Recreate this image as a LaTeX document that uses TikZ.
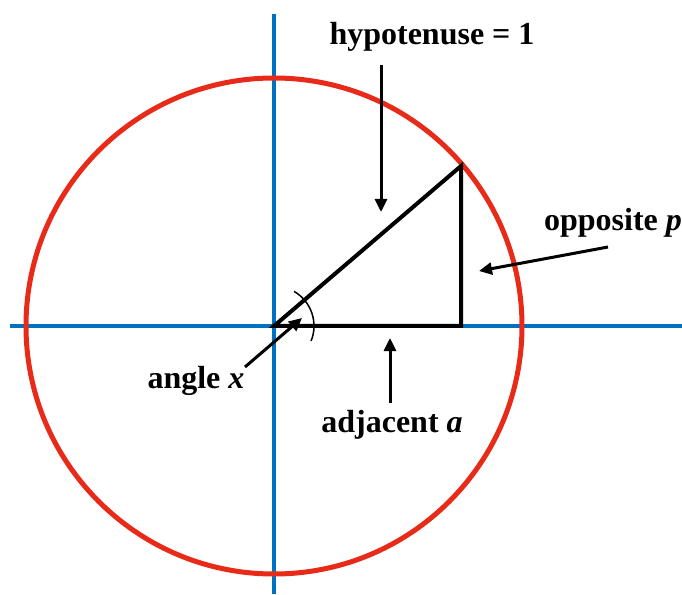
\documentclass[tikz,border=0pt]{standalone}
\usepackage{fontspec}
\setmainfont{Liberation Serif}
\usepackage{tikz}
\usetikzlibrary{arrows.meta,positioning,calc}
\usepackage{xcolor}
\definecolor{circred}{RGB}{232,42,24}
\definecolor{axisblue}{RGB}{0,112,192}
\tikzset{
  lbl/.style={font=\fontsize{32}{36}\selectfont\bfseries, inner sep=0pt},
  pointer/.style={line width=3pt, -{Triangle[length=13pt,width=12pt]}}
}

\begin{document}
\begin{tikzpicture}[x=1pt, y=1pt]
                    \useasboundingbox (-274,-268) rectangle (408,326);
                    \coordinate (O) at (0,0);
                    \coordinate (P) at (187,160);
                    \coordinate (F) at (187,0);
                    % axes and unit circle
                    \draw[axisblue, line width=4pt] (-264,0) -- (408,0);
                    \draw[axisblue, line width=4pt] (0,312) -- (0,-268);
                    \draw[circred, line width=5pt] (O) circle (248);
                    % triangle
                    \draw[line width=4pt, line join=miter] (O) -- (P) -- (F) -- cycle;
                    \draw[line width=1.5pt] (-22:40) arc (-22:60:40);
                    % labels
                    \node[lbl] (hyp) at (158,289) {hypotenuse = 1};
                    \node[lbl] (opp) at (339,103) {opposite \textit{p}};
                    \node[lbl] (adj) at (118,-99) {adjacent \textit{a}};
                    \node[lbl] (ang) at (-78,-55) {angle \textit{x}};
                    \coordinate (hypA) at (107,261);
                    \coordinate (hypB) at (107,114);
                    \coordinate (oppA) at (334,79);
                    \coordinate (oppB) at (205,55);
                    \coordinate (adjA) at (116,-77);
                    \coordinate (adjB) at (116,-12);
                    \coordinate (angA) at (-29,-41);
                    \coordinate (angB) at (28,8);
                    \draw[pointer] (hypA) -- (hypB);
                    \draw[pointer] (oppA) -- (oppB);
                    \draw[pointer] (adjA) -- (adjB);
                    \draw[pointer] (angA) -- (angB);
                \end{tikzpicture}
\end{document}
